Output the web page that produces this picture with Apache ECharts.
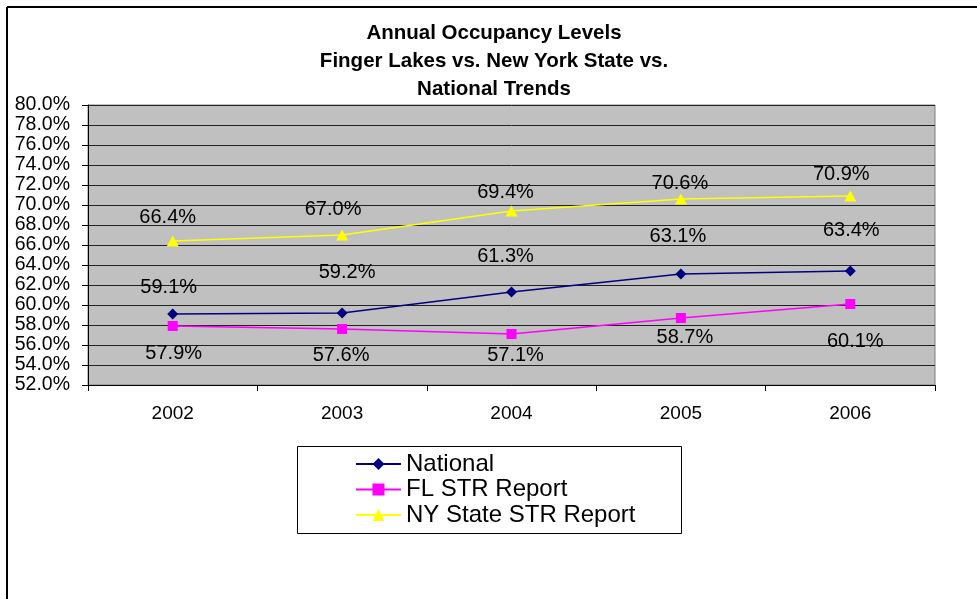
<!DOCTYPE html>
<html>
<head>
<meta charset="utf-8">
<script src="https://cdn.jsdelivr.net/npm/echarts@6/dist/echarts.min.js"></script>
<style>
  html, body { margin: 0; padding: 0; background: #fff; }
  #chart { width: 977px; height: 599px; }
</style>
</head>
<body>
<div id="chart"></div>
<script>
var years = ['2002', '2003', '2004', '2005', '2006'];
var national = [59.1, 59.2, 61.3, 63.1, 63.4];
var flStr = [57.9, 57.6, 57.1, 58.7, 60.1];
var nyStr = [66.4, 67.0, 69.4, 70.6, 70.9];

// where the data labels sit relative to each point (as placed in the original)
var nationalOffsets = [[-4, -27], [5, -41], [-6, -36], [-3, -38], [1, -41]];
var flOffsets = [[1, 27], [-1, 26], [4, 21], [4, 19], [5, 37]];
var nyOffsets = [[-5, -24], [-9, -26], [-6, -19], [-1, -16], [-9, -22]];

var font = '"Liberation Sans", Arial, sans-serif';

function withLabels(values, offsets) {
  return values.map(function (v, i) {
    return { value: v, label: { offset: offsets[i] } };
  });
}

var myChart = echarts.init(document.getElementById('chart'));

var option = {
  animation: false,
  title: {
    text: 'Annual Occupancy Levels\nFinger Lakes vs. New York State vs.\nNational Trends',
    left: 489,
    top: 14,
    textAlign: 'center',
    textStyle: {
      fontFamily: font,
      fontSize: 20.5,
      fontWeight: 'bold',
      color: '#000',
      lineHeight: 28
    }
  },
  graphic: [
    { type: 'line', shape: { x1: 7, y1: 7, x2: 977, y2: 7 }, style: { stroke: '#000', lineWidth: 2 } },
    { type: 'line', shape: { x1: 7, y1: 7, x2: 7, y2: 599 }, style: { stroke: '#000', lineWidth: 2 } },
    { type: 'rect', shape: { x: 297.5, y: 446.5, width: 384, height: 87 },
      style: { fill: '#fff', stroke: '#000', lineWidth: 1 }, z: -1 }
  ],
  legend: {
    orient: 'vertical',
    left: 355,
    top: 452,
    padding: 0,
    itemGap: 1.5,
    itemWidth: 45,
    itemHeight: 15,
    textStyle: { fontFamily: font, fontSize: 24, color: '#000', lineHeight: 24 },
    data: ['National', 'FL STR Report', 'NY State STR Report']
  },
  grid: {
    left: 88,
    right: 42,
    top: 105,
    bottom: 214,
    show: true,
    backgroundColor: '#C0C0C0',
    borderColor: '#808080',
    borderWidth: 1
  },
  xAxis: {
    type: 'category',
    data: years,
    boundaryGap: true,
    axisLine: { lineStyle: { color: '#000', width: 1 } },
    axisTick: { show: true, length: 6, lineStyle: { color: '#000' } },
    axisLabel: { fontFamily: font, fontSize: 19, color: '#000', margin: 19 },
    splitLine: { show: false }
  },
  yAxis: {
    type: 'value',
    min: 52,
    max: 80,
    interval: 2,
    axisLine: { show: true, lineStyle: { color: '#000', width: 1 } },
    axisTick: { show: true, length: 6, lineStyle: { color: '#000' } },
    axisLabel: {
      fontFamily: font,
      fontSize: 19.5,
      color: '#000',
      margin: 18,
      formatter: function (v) { return v.toFixed(1) + '%'; }
    },
    splitLine: { show: true, lineStyle: { color: '#222', width: 1 } }
  },
  series: [
    {
      name: 'National',
      type: 'line',
      data: withLabels(national, nationalOffsets),
      symbol: 'diamond',
      symbolSize: 11,
      itemStyle: { color: '#000080' },
      lineStyle: { color: '#000080', width: 1.5 },
      label: {
        show: true, position: 'inside', fontFamily: font, fontSize: 20, color: '#000',
        formatter: function (p) { return p.value.toFixed(1) + '%'; }
      }
    },
    {
      name: 'FL STR Report',
      type: 'line',
      data: withLabels(flStr, flOffsets),
      symbol: 'rect',
      symbolSize: 10,
      itemStyle: { color: '#FF00FF' },
      lineStyle: { color: '#FF00FF', width: 1.5 },
      label: {
        show: true, position: 'inside', fontFamily: font, fontSize: 20, color: '#000',
        formatter: function (p) { return p.value.toFixed(1) + '%'; }
      }
    },
    {
      name: 'NY State STR Report',
      type: 'line',
      data: withLabels(nyStr, nyOffsets),
      symbol: 'triangle',
      symbolSize: [12, 11],
      itemStyle: { color: '#FFFF00' },
      lineStyle: { color: '#FFFF00', width: 1.5 },
      label: {
        show: true, position: 'inside', fontFamily: font, fontSize: 20, color: '#000',
        formatter: function (p) { return p.value.toFixed(1) + '%'; }
      }
    }
  ]
};

myChart.setOption(option);
</script>
</body>
</html>
